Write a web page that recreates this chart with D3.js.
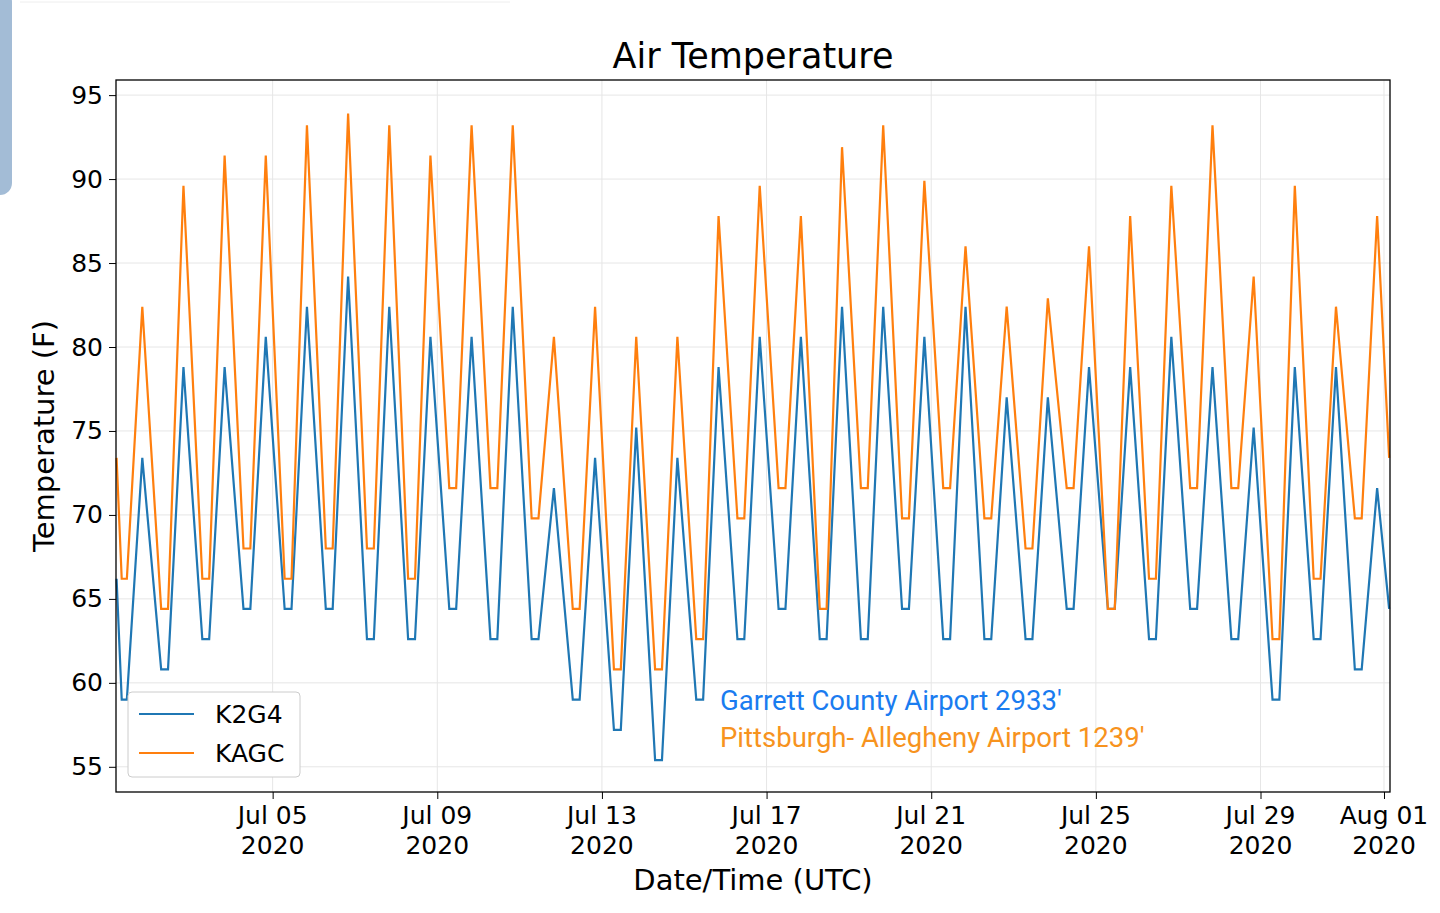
<!DOCTYPE html>
<html><head><meta charset="utf-8">
<script src="https://cdn.jsdelivr.net/npm/d3@7"></script>
<style>body{margin:0;background:#fff;font-family:"DejaVu Sans",sans-serif}</style>
</head><body>
<svg id="chart" width="1440" height="913"></svg>
<script>
// daily highs (Jul 1..31, ~20 UTC) and overnight lows (Jul 2..31, flat ~06-12 UTC)
var kagcHigh = [82.4,89.6,91.4,91.4,93.2,93.9,93.2,91.4,93.2,93.2,80.6,82.4,80.6,80.6,87.8,89.6,87.8,91.9,93.2,89.9,86.0,82.4,82.9,86.0,87.8,89.6,93.2,84.2,89.6,82.4,87.8];
var kagcLow = [64.4,66.2,68,66.2,68,68,66.2,71.6,71.6,69.8,64.4,60.8,60.8,62.6,69.8,71.6,64.4,71.6,69.8,71.6,69.8,68,71.6,64.4,66.2,71.6,71.6,62.6,66.2,69.8];
var k2g4High = [73.4,78.8,78.8,80.6,82.4,84.2,82.4,80.6,80.6,82.4,71.6,73.4,75.2,73.4,78.8,80.6,80.6,82.4,82.4,80.6,82.4,77,77,78.8,78.8,80.6,78.8,75.2,78.8,78.8,71.6];
var k2g4Low = [60.8,62.6,64.4,64.4,64.4,62.6,62.6,64.4,62.6,62.6,59,57.2,55.4,59,62.6,64.4,62.6,62.6,64.4,62.6,62.6,62.6,64.4,64.4,62.6,64.4,62.6,59,62.6,60.8];
var startVals = {K2G4: [66.2, 59], KAGC: [73.4, 66.2]};
var endVals = {K2G4: 64.4, KAGC: 73.4};
var yTicks = [55,60,65,70,75,80,85,90,95];
var xTicks = ["2020-07-05","2020-07-09","2020-07-13","2020-07-17","2020-07-21","2020-07-25","2020-07-29","2020-08-01"];

function build(name, hi, lo) {
  var pts = [];
  pts.push({t: new Date(Date.UTC(2020,6,1,5)), v: startVals[name][0]});
  pts.push({t: new Date(Date.UTC(2020,6,1,8)), v: startVals[name][1]});
  pts.push({t: new Date(Date.UTC(2020,6,1,11)), v: startVals[name][1]});
  hi.forEach(function(v, i) {
    pts.push({t: new Date(Date.UTC(2020,6,1+i,20)), v: v});
    if (i < lo.length) {
      pts.push({t: new Date(Date.UTC(2020,6,2+i,7)), v: lo[i]});
      pts.push({t: new Date(Date.UTC(2020,6,2+i,11)), v: lo[i]});
    }
  });
  pts.push({t: new Date(Date.UTC(2020,7,1,3)), v: endVals[name]});
  return pts;
}

var svg = d3.select("#chart");
var L = 116, R = 1390, T = 80, B = 792;
var x = d3.scaleUtc().domain([new Date(Date.UTC(2020,6,1,4,40)), new Date(Date.UTC(2020,7,1,3,30))]).range([L, R]);
var y = d3.scaleLinear().domain([53.5, 95.9]).range([B, T]);

svg.append("rect").attr("x",-14).attr("y",-10).attr("width",26).attr("height",205).attr("rx",12).attr("fill","#a3bcd6");
svg.append("line").attr("x1",20).attr("x2",510).attr("y1",2).attr("y2",2).attr("stroke","#eee");

var g = svg.append("g");
yTicks.forEach(function(v){
  g.append("line").attr("x1",L).attr("x2",R).attr("y1",y(v)).attr("y2",y(v)).attr("stroke","#e6e6e6");
});
xTicks.forEach(function(s){
  var d = new Date(s+"T00:00:00Z");
  g.append("line").attr("x1",x(d)).attr("x2",x(d)).attr("y1",T).attr("y2",B).attr("stroke","#e6e6e6");
});

var line = d3.line().x(function(d){return x(d.t);}).y(function(d){return y(d.v);});
g.append("path").datum(build("K2G4", k2g4High, k2g4Low)).attr("d", line).attr("fill","none").attr("stroke","#1f77b4").attr("stroke-width",2.2);
g.append("path").datum(build("KAGC", kagcHigh, kagcLow)).attr("d", line).attr("fill","none").attr("stroke","#ff7f0e").attr("stroke-width",2.2);

svg.append("rect").attr("x",L).attr("y",T).attr("width",R-L).attr("height",B-T).attr("fill","none").attr("stroke","#000").attr("stroke-width",1.3);

var ya = svg.append("g").attr("transform","translate("+L+",0)")
  .call(d3.axisLeft(y).tickValues(yTicks).tickSize(7).tickPadding(6));
ya.select(".domain").remove();
ya.selectAll("text").attr("font-size",25).attr("fill","#000").attr("font-family","DejaVu Sans");

var fmtD = d3.utcFormat("%b %d");
var xa = svg.append("g").attr("transform","translate(0,"+B+")")
  .call(d3.axisBottom(x).tickValues(xTicks.map(function(s){return new Date(s+"T00:00:00Z");})).tickSize(7).tickFormat(""));
xa.select(".domain").remove();
xTicks.forEach(function(s){
  var d = new Date(s+"T00:00:00Z");
  var t = svg.append("text").attr("x",x(d)).attr("text-anchor","middle").attr("font-size",25).attr("fill","#000");
  t.append("tspan").attr("x",x(d)).attr("y",824).text(fmtD(d));
  t.append("tspan").attr("x",x(d)).attr("y",854).text("2020");
});

svg.append("text").attr("x",753).attr("y",68).attr("text-anchor","middle").attr("font-size",35).text("Air Temperature");
svg.append("text").attr("x",753).attr("y",890).attr("text-anchor","middle").attr("font-size",29).text("Date/Time (UTC)");
svg.append("text").attr("transform","translate(54,436) rotate(-90)").attr("text-anchor","middle").attr("font-size",29).text("Temperature (F)");

var lg = svg.append("g");
lg.append("rect").attr("x",128).attr("y",692).attr("width",172).attr("height",85).attr("rx",4).attr("fill","#fff").attr("stroke","#ccc");
[["K2G4","#1f77b4",714],["KAGC","#ff7f0e",753]].forEach(function(r){
  lg.append("line").attr("x1",139).attr("x2",194).attr("y1",r[2]).attr("y2",r[2]).attr("stroke",r[1]).attr("stroke-width",2.2);
  lg.append("text").attr("x",215).attr("y",r[2]+9).attr("font-size",25).text(r[0]);
});

svg.append("text").attr("x",720).attr("y",710).attr("font-size",27.5).attr("font-family","Roboto").attr("fill","#1a7cf0").text("Garrett County Airport 2933'");
svg.append("text").attr("x",720).attr("y",747).attr("font-size",27.5).attr("font-family","Roboto").attr("fill","#f7931e").text("Pittsburgh- Allegheny Airport 1239'");
</script>
</body></html>
